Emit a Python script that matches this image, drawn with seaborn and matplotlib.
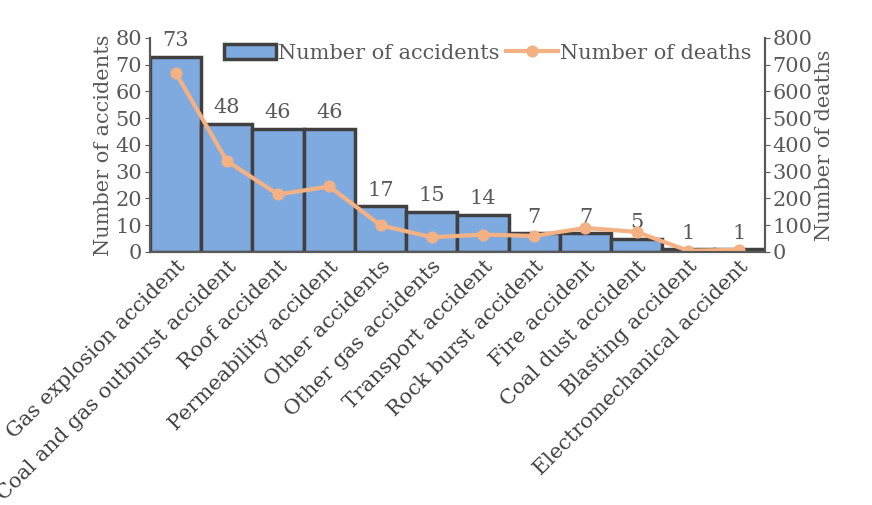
import matplotlib
matplotlib.use("Agg")
import matplotlib.pyplot as plt
import seaborn as sns
import pandas as pd

categories = ["Gas explosion accident", "Coal and gas outburst accident", "Roof accident",
              "Permeability accident", "Other accidents", "Other gas accidents",
              "Transport accident", "Rock burst accident", "Fire accident",
              "Coal dust accident", "Blasting accident", "Electromechanical accident"]
accidents = [73, 48, 46, 46, 17, 15, 14, 7, 7, 5, 1, 1]
deaths = [670, 340, 215, 245, 100, 55, 65, 60, 90, 75, 5, 8]

plt.rcParams["font.family"] = "DejaVu Serif"
grey = "#595959"
fs = 15
df = pd.DataFrame({"cat": categories, "acc": accidents, "dea": deaths, "x": range(len(categories))})

fig = plt.figure(figsize=(8.72, 5.05), dpi=100)
ax = fig.add_axes([0.172, 0.501, 0.705, 0.424])
sns.barplot(data=df, x="cat", y="acc", color="#7FAADF", saturation=1, width=1.0,
            edgecolor="#404040", linewidth=2.5, ax=ax, label="Number of accidents")
for i, v in enumerate(accidents):
    ax.text(i, v + 2.5, str(v), ha="center", va="bottom", fontsize=fs, color=grey)
ax.set_ylim(0, 80)
ax.set_yticks(range(0, 81, 10))
ax.set_xlim(-0.5, len(categories) - 0.5)
ax.set_ylabel("Number of accidents", fontsize=fs, color=grey, labelpad=2)
ax.set_xlabel("")
ax.set_xticks(range(len(categories)))
ax.set_xticklabels(categories, rotation=45, ha="right", rotation_mode="anchor", fontsize=fs, color="#404040")
ax.tick_params(axis="y", labelsize=fs, labelcolor=grey, color=grey, direction="out", pad=2)
ax.tick_params(axis="x", length=0)

ax2 = ax.twinx()
sns.lineplot(data=df, x="x", y="dea", color="#F4B183", linewidth=3, marker="o",
             markersize=8, markeredgecolor="#F4B183", ax=ax2, label="Number of deaths")
ax2.set_ylim(0, 800)
ax2.set_yticks(range(0, 801, 100))
ax2.set_ylabel("Number of deaths", fontsize=fs, color=grey, labelpad=2)
ax2.tick_params(axis="y", labelsize=fs, labelcolor=grey, color=grey, direction="out", pad=2)
for a in (ax, ax2):
    a.spines["top"].set_visible(False)
    for s in ("left", "right", "bottom"):
        a.spines[s].set_color(grey)
        a.spines[s].set_linewidth(1.5)

h1, l1 = ax.get_legend_handles_labels()
h2, l2 = ax2.get_legend_handles_labels()
for a in (ax, ax2):
    if a.get_legend():
        a.get_legend().remove()
ax2.legend(h1 + h2, l1 + l2, loc="upper center", bbox_to_anchor=(0.55, 1.06), ncol=2,
           frameon=False, fontsize=fs, handlelength=2.5, columnspacing=0.3, handletextpad=0.1,
           labelcolor=grey)
fig.savefig("out.png", dpi=100)
